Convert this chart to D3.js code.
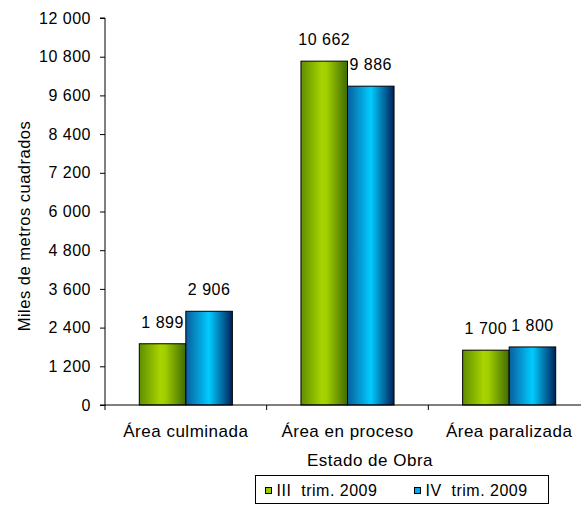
<!DOCTYPE html>
<html>
<head>
<meta charset="utf-8">
<script src="https://cdn.jsdelivr.net/npm/d3@7"></script>
<style>
  html, body { margin: 0; padding: 0; background: #fff; }
  svg { display: block; font-family: "Liberation Sans", Arial, sans-serif; letter-spacing: 0.5px; }
</style>
</head>
<body>
<div id="chart"></div>
<script>
// ---- data ----
const categories = ["Área culminada", "Área en proceso", "Área paralizada"];
const seriesNames = ["III trim. 2009", "IV trim. 2009"];
const seriesIII = [1899, 10662, 1700];
const seriesIV = [2906, 9886, 1800];
const valueLabels = [["1 899", "10 662", "1 700"], ["2 906", "9 886", "1 800"]];
const yTicks = [0, 1200, 2400, 3600, 4800, 6000, 7200, 8400, 9600, 10800, 12000];
const yTickLabels = ["0", "1 200", "2 400", "3 600", "4 800", "6 000", "7 200", "8 400", "9 600", "10 800", "12 000"];
const yTitle = "Miles de metros cuadrados";
const xTitle = "Estado de Obra";

const W = 581, H = 505;
const svg = d3.select("#chart").append("svg").attr("width", W).attr("height", H);

const defs = svg.append("defs");
const grads = [
  { id: "gGreen", stops: [["0%", "#5f8f00"], ["45%", "#a8d400"], ["55%", "#a2cf00"], ["100%", "#3f6b00"]] },
  { id: "gBlue", stops: [["0%", "#0a5e9e"], ["50%", "#00ccff"], ["100%", "#00205a"]] }
];
grads.forEach(g => {
  const lgr = defs.append("linearGradient").attr("id", g.id).attr("x1", "0").attr("x2", "1").attr("y1", "0").attr("y2", "0");
  g.stops.forEach(s => lgr.append("stop").attr("offset", s[0]).attr("stop-color", s[1]));
});
const fills = ["url(#gGreen)", "url(#gBlue)"];
const legendFills = ["#99cc00", "#00aaee"];

const pLeft = 105, pRight = 590, pTop = 18, pBottom = 405;

const y = d3.scaleLinear().domain([0, 12000]).range([pBottom, pTop]);
const x0 = d3.scaleBand().domain(categories).range([pLeft, pRight]).padding(0);
const x1 = d3.scaleBand().domain(seriesNames).range([0, x0.bandwidth()]).paddingInner(0).paddingOuter(0.737);

const series = [seriesIII, seriesIV];

// bars
const groups = svg.append("g").selectAll("g").data(categories).join("g")
  .attr("transform", d => `translate(${x0(d)},0)`);

groups.each(function(cat, ci) {
  const g = d3.select(this);
  seriesNames.forEach((s, si) => {
    const v = series[si][ci];
    g.append("rect")
      .attr("x", x1(s)).attr("y", y(v))
      .attr("width", x1.bandwidth()).attr("height", y(0) - y(v))
      .attr("fill", fills[si]).attr("stroke", "#000").attr("stroke-width", 1);
    g.append("text")
      .attr("x", x1(s) + x1.bandwidth() / 2).attr("y", y(v) - 16)
      .attr("text-anchor", "middle").attr("font-size", 16).attr("fill", "#000")
      .text(valueLabels[si][ci]);
  });
});

// y axis
const yAxis = d3.axisLeft(y).tickValues(yTicks).tickFormat((d, i) => yTickLabels[i]).tickSize(5).tickPadding(9);
const gy = svg.append("g").attr("transform", `translate(${pLeft},0)`).call(yAxis);
gy.select(".domain").attr("stroke", "#000").attr("d", `M-5,${pTop}H0V${pBottom}H-5`);
gy.selectAll(".tick line").attr("stroke", "#000");
gy.selectAll(".tick text").attr("font-size", 16).attr("font-family", "Liberation Sans, Arial, sans-serif").attr("fill", "#000");

// x axis
const gx = svg.append("g").attr("transform", `translate(0,${pBottom})`);
gx.append("line").attr("x1", pLeft).attr("x2", pRight).attr("y1", 0).attr("y2", 0).attr("stroke", "#000");
const boundaries = categories.map(c => x0(c)).concat([pRight]);
gx.selectAll("line.tk").data(boundaries).join("line").attr("class", "tk")
  .attr("x1", d => d).attr("x2", d => d).attr("y1", 0).attr("y2", 5).attr("stroke", "#000");
gx.selectAll("text.cat").data(categories).join("text").attr("class", "cat")
  .attr("x", d => x0(d) + x0.bandwidth() / 2).attr("y", 32)
  .attr("text-anchor", "middle").attr("font-size", 17).attr("fill", "#000")
  .text(d => d);

// titles
svg.append("text").attr("x", 370).attr("y", 466).attr("text-anchor", "middle")
  .attr("font-size", 17).attr("fill", "#000").text(xTitle);
svg.append("text").attr("transform", "translate(30,226) rotate(-90)").attr("text-anchor", "middle")
  .attr("font-size", 16.5).attr("fill", "#000").text(yTitle);

// legend
const leg = svg.append("g");
leg.append("rect").attr("x", 255.5).attr("y", 475.5).attr("width", 293).attr("height", 28)
  .attr("fill", "#fff").attr("stroke", "#000");
const legX = [265.5, 414.5];
seriesNames.forEach((s, i) => {
  leg.append("rect").attr("x", legX[i]).attr("y", 487.5).attr("width", 6).attr("height", 6)
    .attr("fill", legendFills[i]).attr("stroke", "#000");
  leg.append("text").attr("x", legX[i] + 11).attr("y", 496).attr("font-size", 16).attr("fill", "#000")
    .attr("style", "white-space:pre").text(s.replace(" ", "  "));
});
</script>
</body>
</html>
